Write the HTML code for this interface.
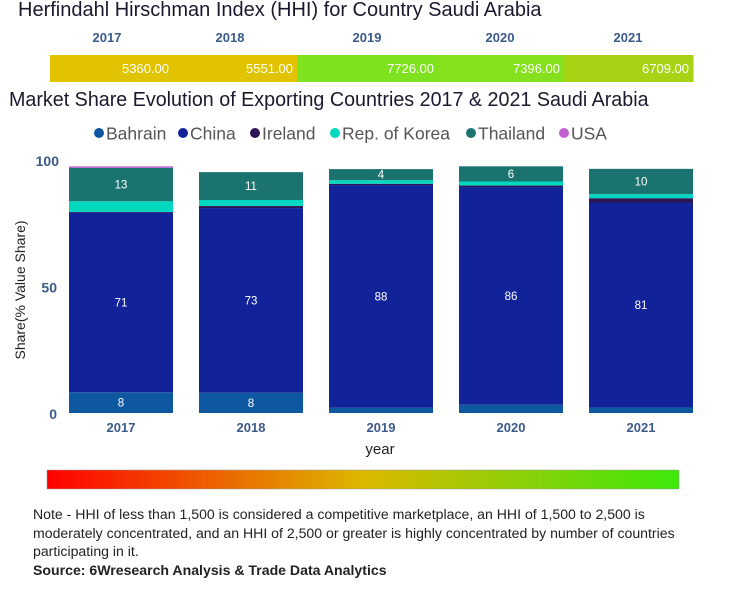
<!DOCTYPE html>
<html><head><meta charset="utf-8"><style>
body{margin:0;width:733px;height:600px;background:#fff;font-family:"Liberation Sans",sans-serif;overflow:hidden;position:relative}
.t{position:absolute;white-space:nowrap}
</style></head><body>
<div class="t" style="left:18px;top:-1px;font-size:20px;color:#1a1a2e">Herfindahl Hirschman Index (HHI) for Country Saudi Arabia</div>
<svg width="733" height="600" style="position:absolute;left:0;top:0" id="svg"></svg>
<div class="t" style="left:9px;top:89px;font-size:20px;color:#1a1a2e;transform:scaleX(0.985);transform-origin:left">Market Share Evolution of Exporting Countries 2017 &amp; 2021 Saudi Arabia</div>
<div class="t" style="left:33px;top:505px;font-size:14.1px;line-height:18.5px;color:#222">Note - HHI of less than 1,500 is considered a competitive marketplace, an HHI of 1,500 to 2,500 is<br>moderately concentrated, and an HHI of 2,500 or greater is highly concentrated by number of countries<br>participating in it.<br><b>Source: 6Wresearch Analysis &amp; Trade Data Analytics</b></div>
<script>
const years=["2017","2018","2019","2020","2021"];
const hhi=[5360,5551,7726,7396,6709];
const hhiColors=["#e2c300","#e2c300","#7ee21f","#85e01d","#a6d414"];
const series=["Bahrain","China","Ireland","Rep. of Korea","Thailand","USA"];
const colors=["#0d58a0","#12239a","#2e1452","#00d8c0","#1b7370","#c060d0"];
const bahrain=[8.2,8,2.1,3.3,2.2];
const china=[71,73,88,86,81];
const ireland=[0.3,0.8,0.5,0.6,1.7];
const korea=[4.2,2.4,1.4,1.6,1.6];
const thailand=[13.2,11,4.4,6,10];
const usa=[0.6,0,0,0,0];
const vals=[bahrain,china,ireland,korea,thailand,usa];
const labelled=[true,true,false,false,true,false];
const yTicks=[0,50,100];
const NS="http://www.w3.org/2000/svg";
const svg=document.getElementById('svg');
function mk(tag,at,txt){const e=document.createElementNS(NS,tag);for(const k in at)e.setAttribute(k,at[k]);if(txt!==undefined)e.textContent=txt;svg.appendChild(e);return e;}
const hx0=50,hx1=693;const bounds=[hx0,173,297,438,564,hx1];
const hLabelX=[107,230,367,500,628];
for(let i=0;i<years.length;i++){
 const r=mk('rect',{x:bounds[i],y:55,width:bounds[i+1]-bounds[i]+0.5,height:27,fill:hhiColors[i]});
 
 
 const t=mk('text',{x:bounds[i+1]-4,y:73,'text-anchor':'end','font-size':13,fill:'#fff'},hhi[i].toFixed(2));
 
 
 const y=mk('text',{x:hLabelX[i],y:42,'text-anchor':'middle','font-size':13,'font-weight':'bold',fill:'#3a5a8c'},years[i]);
 
 
}
const legX=[99,183,255,335,471,564];
series.forEach((s,i)=>{
 const c=mk('circle',{cx:legX[i],cy:133,r:5,fill:colors[i]});
 
 
 const t=mk('text',{x:legX[i]+7,y:139.5,'font-size':17.5,fill:'#555'},s);
 
 
});
const y0=413,pxPer=2.53;const Y=v=>y0-v*pxPer;
const band=130,bw=104,left=69;const X=i=>left+i*band;
yTicks.forEach(v=>{const t=mk('text',{x:v==100?59:57,y:Y(v)+6,'text-anchor':'end','font-size':14,'font-weight':'bold',fill:'#3a5a8c'},String(v));
 
 });
years.forEach((yr,i)=>{
 let acc=0;
 vals.forEach((arr,s)=>{
  const v=arr[i];if(v<=0)return;
  const r=mk('rect',{x:X(i),y:Y(acc+v),width:bw,height:v*pxPer,fill:colors[s]});
  
  
  if(labelled[s]&&v>=3.5){
   const t=mk('text',{x:X(i)+bw/2,y:Y(acc+v/2)+4,'text-anchor':'middle','font-size':11.5,fill:'#fff'},String(Math.round(v)));
   
   
  }
  acc+=v;
 });
 const t=mk('text',{x:X(i)+bw/2,y:432,'text-anchor':'middle','font-size':13,'font-weight':'bold',fill:'#3a5a8c'},yr);
 
 
});
const xt=mk('text',{x:380,y:454,'text-anchor':'middle','font-size':15,fill:'#222'},'year');


const yt=mk('text',{x:0,y:0,'text-anchor':'middle','font-size':14,fill:'#222',transform:'translate(25,290) rotate(-90)'},'Share(% Value Share)');


const defs=mk('defs',{});
const g=document.createElementNS(NS,'linearGradient');g.setAttribute('id','gr');
[["0","#ff0000"],["0.5","#dcb800"],["1","#3ce80c"]].forEach(([o,c])=>{const st=document.createElementNS(NS,'stop');st.setAttribute('offset',o);st.setAttribute('stop-color',c);g.appendChild(st);});
defs.appendChild(g);
const gb=mk('rect',{x:47,y:470,width:632,height:19,fill:'url(#gr)',stroke:'#999','stroke-width':0.5});


</script>
</body></html>
